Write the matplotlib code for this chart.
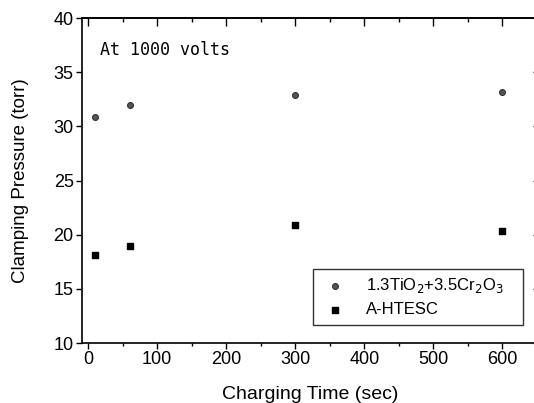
import matplotlib
matplotlib.use("Agg")
import matplotlib.pyplot as plt
from matplotlib.ticker import MultipleLocator

time_sec = [10, 60, 300, 600]
tio2_cr2o3 = [30.9, 32.0, 32.9, 33.2]
a_htesc = [18.1, 19.0, 20.9, 20.3]

x_ticks = [0, 100, 200, 300, 400, 500, 600]
y_ticks = [10, 15, 20, 25, 30, 35, 40]

plt.rcParams['font.family'] = ['Liberation Sans', 'DejaVu Sans']

fig = plt.figure(figsize=(5.34, 4.03), dpi=100)
ax = fig.add_axes([82/534, 1-343/403, (539-82)/534, (343-18)/403])

ax.scatter(time_sec, tio2_cr2o3, marker='o', s=18, color='#555555', edgecolors='#333333',
           linewidths=0.8, label=r'1.3TiO$_2$+3.5Cr$_2$O$_3$', zorder=3)
ax.scatter(time_sec, a_htesc, marker='s', s=20, color='black',
           label='A-HTESC', zorder=3)

ax.set_xlim(-9, 653)
ax.set_ylim(10, 40)
ax.set_xticks(x_ticks)
ax.set_yticks(y_ticks)
ax.xaxis.set_minor_locator(MultipleLocator(50))
ax.tick_params(axis='both', which='major', direction='out', length=4, width=1,
               labelsize=13, pad=2)
ax.tick_params(axis='x', which='minor', direction='out', length=2, width=1)
for s in ax.spines.values():
    s.set_linewidth(1.2)

# mirrored top and right axes with inward ticks
top = ax.secondary_xaxis('top')
top.set_xticks(x_ticks)
top.xaxis.set_minor_locator(MultipleLocator(50))
top.tick_params(which='major', direction='in', length=6, width=1, labeltop=False)
top.tick_params(which='minor', direction='in', length=3, width=1)
top.spines['top'].set_linewidth(1.2)
right = ax.secondary_yaxis('right')
right.set_yticks(y_ticks)
right.tick_params(which='major', direction='in', length=4, width=1, labelright=False)

ax.set_xlabel('Charging Time (sec)', fontsize=14, labelpad=13)
ax.set_ylabel('Clamping Pressure (torr)', fontsize=13.5, labelpad=18)

ax.text(100/534, 1-50/403, 'At 1000 volts', transform=fig.transFigure,
        fontsize=12, family='DejaVu Sans Mono', va='center', ha='left')

leg = ax.legend(loc='lower left', bbox_to_anchor=(313/534, 1-325/403, 210/534, 55/403),
                bbox_transform=fig.transFigure, mode='expand', fontsize=12, frameon=True,
                fancybox=False, edgecolor='black', handletextpad=1.0,
                borderpad=0.45, labelspacing=0.45, handlelength=1.74,
                borderaxespad=0)
leg.get_frame().set_linewidth(1.0)

fig.savefig('out.png', dpi=100)
